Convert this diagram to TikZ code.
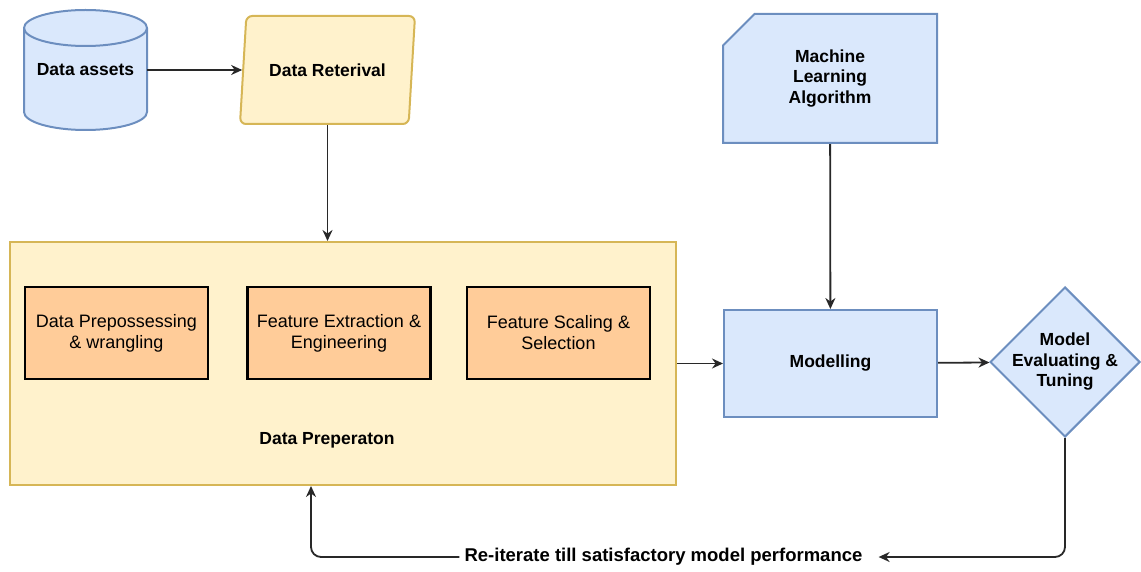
\documentclass[tikz,border=0pt]{standalone}
\usepackage{fontspec}
\setmainfont{Liberation Sans}
\usetikzlibrary{shapes.geometric, shapes.misc, arrows.meta, positioning}
\definecolor{bluefill}{RGB}{218, 232, 252}
\definecolor{blueline}{RGB}{108, 142, 191}
\definecolor{yellowfill}{RGB}{255, 242, 204}
\definecolor{yellowline}{RGB}{214, 182, 86}
\definecolor{peach}{RGB}{255, 204, 153}
\definecolor{arrowgray}{RGB}{40, 40, 40}
\tikzset{
  labelfont/.style={
    font=\fontsize{17.5}{20.5}\selectfont\bfseries
  },
  bluebox/.style={
    draw=blueline, fill=bluefill, line width=2pt,
    labelfont, align=center
  },
  yellowbox/.style={
    draw=yellowline, fill=yellowfill, line width=2pt,
    labelfont, align=center
  },
  stepbox/.style={
    rectangle, draw=black, fill=peach, line width=2.5pt,
    minimum width=183pt, minimum height=92pt,
    font=\fontsize{18}{21}\selectfont, align=center
  },
  arrow/.style={
    -{Stealth[length=11pt, width=10pt]}, line width=1.8pt, color=arrowgray
  }
}
\begin{document}
\begin{tikzpicture}[x=1pt, y=-1pt, node distance=37pt]
  \useasboundingbox (0,0) rectangle (1141,572);

  % ── Source and retrieval ───────────────────────────────
  \begin{scope}[shift={(85.5,70)}, draw=blueline, line width=2pt]
    \filldraw[fill=bluefill]
      (-61.5,-42) -- (-61.5,42)
      arc[start angle=180, end angle=0, x radius=61.5, y radius=18]
      -- (61.5,-42)
      arc[start angle=0, end angle=-180, x radius=61.5, y radius=18]
      -- cycle;
    \draw (-61.5,-42)
      arc[start angle=180, end angle=0, x radius=61.5, y radius=18];
  \end{scope}
  \node[labelfont, minimum width=123pt, minimum height=120pt]
    (assets) at (85.5,70) {Data assets};
  \node[yellowbox, trapezium, trapezium left angle=72,
        trapezium right angle=108, trapezium stretches body,
        rounded corners=6pt, minimum width=175pt, minimum height=108pt]
    (retrieval) at (327.5,70) {Data Reterival};

  % ── Data preparation group ─────────────────────────────
  \node[yellowbox, rectangle, minimum width=666pt, minimum height=243pt]
    (prep) at (343,363.5) {};
  \node[stepbox] (preproc) at (116.5,333)
    {Data Prepossessing\\\& wrangling};
  \node[stepbox, right=of preproc] (featext)
    {Feature Extraction \&\\Engineering};
  \node[stepbox, right=34pt of featext] (featsel)
    {Feature Scaling \&\\Selection};
  \node[labelfont] (preplabel) at (327,440) {Data Preperaton};

  % ── Modelling side ─────────────────────────────────────
  \node[bluebox, chamfered rectangle, chamfered rectangle corners=north west,
        chamfered rectangle xsep=28pt,
        minimum width=214pt, minimum height=129pt]
    (mlalgo) at (830,78.5) {Machine\\Learning\\Algorithm};
  \node[bluebox, rectangle, minimum width=213pt, minimum height=107pt]
    (model) at (830.5,363.5) {Modelling};
  \node[diamond, aspect=1, draw=blueline, fill=bluefill, line width=2pt,
        minimum width=150pt, minimum height=150pt, inner sep=0pt,
        label={[labelfont, align=center]center:Model\\Evaluating \&\\Tuning}]
    (evaltune) at (1065,362) {};

  % ── Feedback loop ──────────────────────────────────────
  \node[font=\fontsize{18.5}{21}\selectfont\bfseries, inner xsep=5pt]
    (reiterate) at (663.5,557)
    {Re-iterate till satisfactory model performance};
  \coordinate (reentry) at ([xshift=-32pt]prep.south);

  % ── Arrows ─────────────────────────────────────────────
  \draw[arrow] (assets) -- (retrieval);
  \draw[arrow] (retrieval.south) -- (retrieval.south |- prep.north);
  \draw[arrow] (prep) -- (model);
  \draw[arrow] (mlalgo) -- (model);
  \draw[arrow] (model) -- (evaltune);
  \draw[arrow, rounded corners=10pt]
    (evaltune.south) |- ([xshift=11pt]reiterate.east);
  \draw[arrow, rounded corners=10pt]
    (reiterate.west) -| (reentry);

\end{tikzpicture}
\end{document}
